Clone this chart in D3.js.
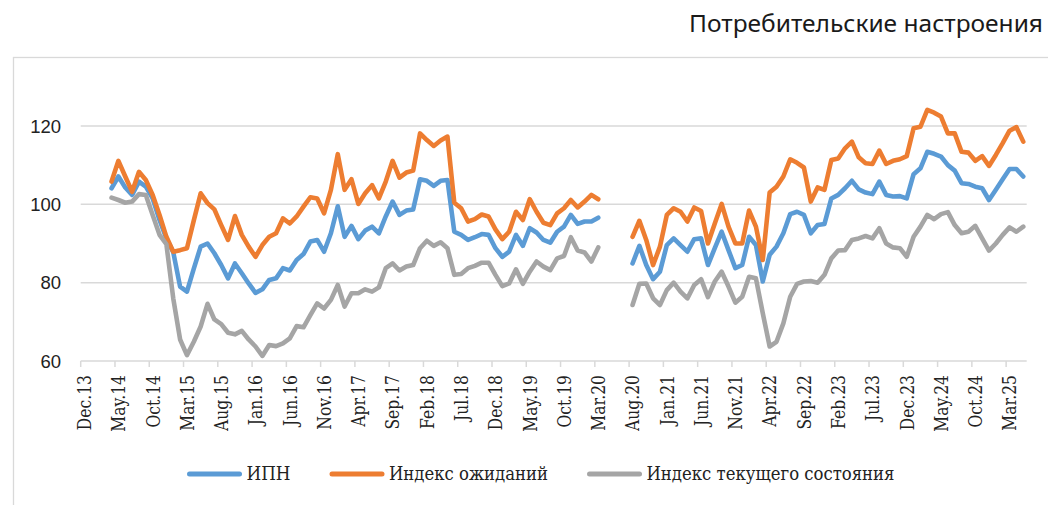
<!DOCTYPE html>
<html lang="ru">
  <head>
    <meta charset="utf-8">
    <title>Потребительские настроения</title>
    <script src="https://d3js.org/d3.v7.min.js"></script>
    <style>
      body { margin: 0; background: #fff; }
    </style>
  </head>
  <body>
    <script>
      // month categories on the x axis, Dec.13 .. May.25
      var monthNames = ["Jan", "Feb", "Mar", "Apr", "May", "Jun", "Jul", "Aug", "Sep", "Oct", "Nov", "Dec"];
      var categories = [];
      for (var k = 0; k < 138; k++) {
        categories.push(monthNames[(11 + k) % 12] + "." + (13 + Math.floor((11 + k) / 12)));
      }

      var tickLabels = ["Dec.13", "May.14", "Oct.14", "Mar.15", "Aug.15", "Jan.16", "Jun.16", "Nov.16",
                        "Apr.17", "Sep.17", "Feb.18", "Jul.18", "Dec.18", "May.19", "Oct.19", "Mar.20",
                        "Aug.20", "Jan.21", "Jun.21", "Nov.21", "Apr.22", "Sep.22", "Feb.23", "Jul.23",
                        "Dec.23", "May.24", "Oct.24", "Mar.25"];
      var yTicks = [60, 80, 100, 120];

      // series start in Apr.14; no survey Apr.20 - Jul.20 (null)
      var firstMonth = "Apr.14";

      var ipn = [
        104.1, 107.1, 104.3, 102.4, 105.8, 104.5, 101.5, 96.0, 91.3,
        87.8, 79.0, 77.7, 83.6, 89.2, 90.0, 87.5, 84.5, 81.1, 84.9, 82.4, 79.8,
        77.4, 78.3, 80.7, 81.1, 83.7, 83.1, 85.8, 87.3, 90.5, 90.9, 87.9, 92.6,
        99.5, 91.7, 94.5, 91.1, 93.3, 94.3, 92.6, 96.9, 100.7, 97.3, 98.4, 98.7,
        106.4, 106.0, 104.7, 106.0, 106.2, 93.0, 92.2, 90.9, 91.6, 92.4, 92.2, 88.8,
        86.6, 87.9, 92.2, 89.4, 93.9, 92.8, 90.9, 90.2, 93.0, 94.3, 97.3, 95.0,
        95.6, 95.6, 96.6,
        null, null, null, null,
        84.9, 89.4, 84.5, 80.9, 82.8,
        89.6, 91.3, 89.6, 87.9, 91.1, 91.3, 84.5, 88.8, 93.0, 88.3, 83.7, 84.5,
        91.7, 89.6, 80.3, 87.1, 89.2, 92.6, 97.5, 98.1, 97.3, 92.6, 94.7, 95.0,
        101.5, 102.4, 104.1, 106.0, 103.8, 103.0, 102.6, 105.8, 102.4, 102.0, 102.1, 101.5,
        107.7, 109.2, 113.4, 112.9, 112.2, 110.0, 108.6, 105.4, 105.2, 104.5, 104.1, 101.1,
        103.7, 106.4, 109.0, 109.0, 107.1
      ];

      var expectations = [
        105.8, 111.1, 107.1, 103.2, 108.3, 106.2, 102.4, 97.3, 91.7,
        87.9, 88.3, 88.8, 95.9, 102.8, 100.3, 98.7, 94.7, 90.9, 97.0, 92.2, 89.2,
        86.6, 89.6, 91.7, 92.6, 96.4, 95.1, 96.9, 99.4, 101.8, 101.5, 97.7, 103.7,
        112.8, 103.7, 106.4, 100.1, 102.8, 104.9, 101.5, 105.8, 111.1, 106.8, 108.1, 108.6,
        118.1, 116.4, 114.9, 116.3, 117.3, 100.4, 99.0, 95.6, 96.2, 97.4, 96.9, 93.6,
        91.1, 93.0, 98.1, 96.0, 101.3, 98.1, 95.3, 94.7, 97.7, 99.0, 101.1, 99.2,
        100.7, 102.4, 101.3,
        null, null, null, null,
        91.7, 95.8, 90.9, 84.5, 89.2,
        97.3, 99.0, 98.1, 95.6, 99.2, 98.3, 90.0, 95.1, 100.1, 94.3, 90.0, 90.0,
        98.4, 94.3, 85.8, 103.0, 104.5, 107.1, 111.5, 110.6, 109.4, 100.7, 104.3, 103.7,
        111.3, 111.7, 114.3, 116.0, 112.0, 110.5, 110.3, 113.7, 110.3, 111.1, 111.5, 112.3,
        119.4, 119.8, 124.1, 123.4, 122.4, 118.1, 118.1, 113.4, 113.2, 111.1, 112.3, 109.8,
        112.6, 115.6, 118.8, 119.7, 116.0
      ];

      var current = [
        101.7, 101.1, 100.4, 100.7, 102.6, 102.4, 97.3, 92.2, 89.8,
        76.0, 65.5, 61.5, 64.9, 68.8, 74.6, 70.6, 69.4, 67.2, 66.8, 67.7, 65.5,
        63.7, 61.3, 64.1, 63.8, 64.5, 65.8, 68.9, 68.6, 71.7, 74.7, 73.4, 75.6,
        79.4, 73.9, 77.3, 77.3, 78.3, 77.7, 78.8, 83.7, 84.9, 83.1, 84.1, 84.5,
        88.8, 90.7, 89.4, 90.3, 88.8, 82.0, 82.2, 83.7, 84.3, 85.1, 85.1, 82.0,
        79.1, 79.8, 83.4, 79.7, 82.8, 85.4, 84.1, 83.2, 86.2, 86.8, 91.6, 88.2,
        87.7, 85.4, 89.0,
        null, null, null, null,
        74.3, 79.7, 79.8, 76.0, 74.3,
        78.1, 80.0, 77.7, 76.0, 79.4, 80.9, 76.3, 80.3, 82.8, 79.0, 74.9, 76.4,
        81.5, 81.1, 72.2, 63.7, 64.9, 69.6, 76.4, 79.7, 80.3, 80.4, 80.0, 82.0,
        86.2, 88.2, 88.3, 90.9, 91.3, 91.9, 91.3, 93.9, 90.0, 89.0, 88.8, 86.6,
        91.7, 94.3, 97.3, 96.2, 97.5, 98.0, 94.7, 92.6, 93.0, 94.5, 91.3, 88.2,
        90.0, 92.2, 94.1, 93.0, 94.3
      ];

      var seriesNames = ["ИПН", "Индекс ожиданий", "Индекс текущего состояния"];
      var seriesColors = ["#5b9bd5", "#ed7d31", "#a5a5a5"];
      var seriesValues = [ipn, expectations, current];

      var w = 1048;
      var h = 505;
      var plotLeft = 80.7, plotRight = 1026.7, plotTop = 86.8, plotBottom = 361;

      var svg = d3.select("body")
                  .append("svg")
                  .attr("width", w)
                  .attr("height", h)
                  .style("display", "block");

      // chart area border
      svg.append("rect")
         .attr("x", 13.5).attr("y", 57.5)
         .attr("width", 1045).attr("height", 470)
         .attr("fill", "none")
         .attr("stroke", "#d9d9d9")
         .attr("stroke-width", 1.3);

      svg.append("text")
         .attr("x", 1043).attr("y", 31.5)
         .attr("text-anchor", "end")
         .attr("textLength", 354)
         .attr("lengthAdjust", "spacingAndGlyphs")
         .style("font-family", "'Noto Sans', sans-serif")
         .style("font-size", "23px")
         .attr("fill", "#1a1a1a")
         .text("Потребительские настроения");

      var xScale = d3.scaleBand()
                     .domain(categories)
                     .range([plotLeft, plotRight])
                     .padding(0);
      var bw = xScale.bandwidth();
      var start = categories.indexOf(firstMonth);

      var yScale = d3.scaleLinear()
                     .domain([60, 130])
                     .range([plotBottom, plotTop]);

      // gridlines + y labels
      svg.append("g")
         .selectAll("line")
         .data(yTicks.slice(1))
         .enter()
         .append("line")
         .attr("x1", plotLeft).attr("x2", plotRight)
         .attr("y1", function(d) { return yScale(d); })
         .attr("y2", function(d) { return yScale(d); })
         .attr("stroke", "#d9d9d9")
         .attr("stroke-width", 1.5);

      svg.append("g")
         .selectAll("text")
         .data(yTicks)
         .enter()
         .append("text")
         .attr("x", 61)
         .attr("y", function(d) { return yScale(d); })
         .attr("dy", "0.36em")
         .attr("text-anchor", "end")
         .style("font-family", "'Liberation Sans', sans-serif")
         .style("font-size", "18.5px")
         .attr("fill", "#222")
         .text(function(d) { return d; });

      // x axis: line, ticks at category boundaries, labels at centers
      var xAxis = svg.append("g");
      xAxis.append("line")
           .attr("x1", plotLeft).attr("x2", plotRight)
           .attr("y1", plotBottom).attr("y2", plotBottom)
           .attr("stroke", "#d9d9d9")
           .attr("stroke-width", 1.5);

      xAxis.selectAll(".tick")
           .data(tickLabels)
           .enter()
           .append("line")
           .attr("class", "tick")
           .attr("x1", function(d) { return xScale(d); })
           .attr("x2", function(d) { return xScale(d); })
           .attr("y1", plotBottom).attr("y2", plotBottom + 6)
           .attr("stroke", "#d9d9d9")
           .attr("stroke-width", 1.5);

      xAxis.selectAll(".xlabel")
           .data(tickLabels)
           .enter()
           .append("text")
           .attr("class", "xlabel")
           .attr("transform", function(d) {
             return "translate(" + (xScale(d) + bw / 2) + ",375) rotate(-90) scale(0.82,1)";
           })
           .attr("dy", "0.36em")
           .attr("text-anchor", "end")
           .style("font-family", "'DejaVu Serif', serif")
           .style("font-size", "19px")
           .attr("fill", "#222")
           .text(function(d) { return d; });

      // series lines
      var line = d3.line()
                   .defined(function(d) { return d != null; })
                   .x(function(d, i) { return xScale(categories[start + i]) + bw / 2; })
                   .y(function(d) { return yScale(d); });

      svg.append("g")
         .selectAll("path")
         .data(seriesValues)
         .enter()
         .append("path")
         .attr("d", function(d) { return line(d); })
         .attr("fill", "none")
         .attr("stroke", function(d, i) { return seriesColors[i]; })
         .attr("stroke-width", 4.6)
         .attr("stroke-linejoin", "round")
         .attr("stroke-linecap", "round");

      // legend, laid out left to right
      var legendWidths = [44, 159, 248];
      var legend = svg.append("g");
      var lx = 189.5;
      seriesNames.forEach(function(name, i) {
        legend.append("line")
              .attr("x1", lx).attr("x2", lx + 50)
              .attr("y1", 474).attr("y2", 474)
              .attr("stroke", seriesColors[i])
              .attr("stroke-width", 5)
              .attr("stroke-linecap", "round");
        legend.append("text")
              .attr("x", lx + 57)
              .attr("y", 474)
              .attr("dy", "0.36em")
              .attr("textLength", legendWidths[i])
              .attr("lengthAdjust", "spacingAndGlyphs")
              .style("font-family", "'DejaVu Serif', serif")
              .style("font-size", "18px")
              .attr("fill", "#222")
              .text(name);
        lx += 57 + legendWidths[i] + 41.5;
      });
    </script>
  </body>
</html>
